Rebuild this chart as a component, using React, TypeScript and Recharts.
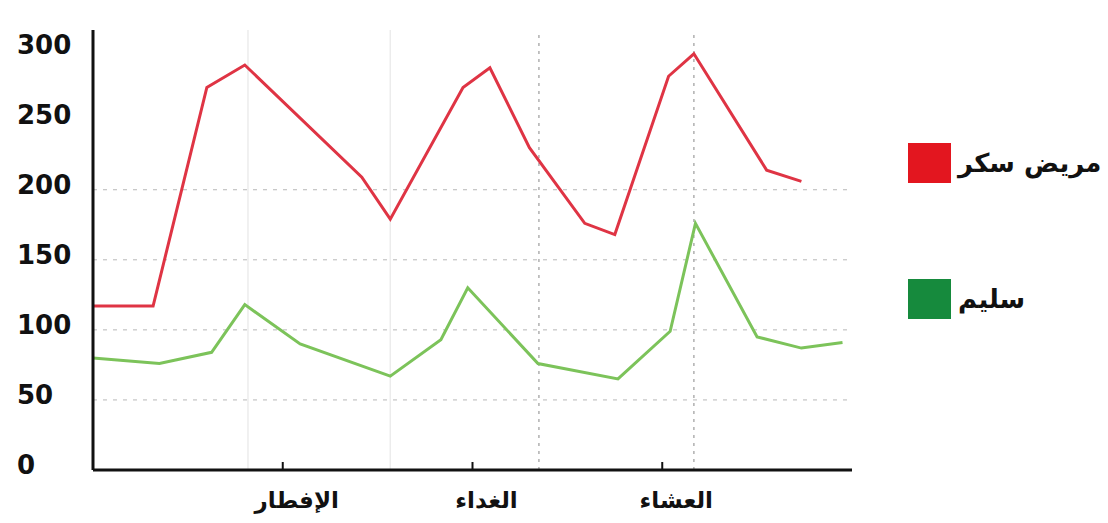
import { LineChart, Line, XAxis, YAxis, CartesianGrid, ReferenceLine } from "recharts";

// hours of the day on the x axis, meals marked at 6, 12 and 18
const mealHours = [6, 12, 18];
const mealNames = ["الإفطار", "الغداء", "العشاء"];
const yTicks = [0, 50, 100, 150, 200, 250, 300];
const gridLevels = [50, 100, 150, 200];
const dividerHours = [4.9, 9.4, 14.1, 19.0];

const diabeticHours = [0, 1.9, 3.6, 4.8, 8.5, 9.4, 11.7, 12.55, 13.8, 15.55, 16.5, 18.2, 19.0, 21.3, 22.4];
const diabeticLevels = [117, 117, 273, 289, 209, 179, 273, 287, 230, 176, 168, 281, 297, 214, 206];

const healthyHours = [0, 2.1, 3.75, 4.8, 6.55, 9.4, 11.0, 11.85, 14.07, 16.6, 18.25, 19.05, 21.0, 22.4, 23.7];
const healthyLevels = [80, 76, 84, 118, 90, 67, 93, 130, 76, 65, 99, 176, 95, 87, 91];

const seriesNames = ["مريض سكر", "سليم"];
const lineColors = ["#df3444", "#7cc35a"];
const swatchColors = ["#e3161f", "#168a3d"];

const diabeticData = diabeticHours.map((h, i) => ({ h, v: diabeticLevels[i] }));
const healthyData = healthyHours.map((h, i) => ({ h, v: healthyLevels[i] }));

const FONT = "'DejaVu Sans', Verdana, sans-serif";

const YTick = ({ y, payload }: any) => (
  <text x={17} y={y - 5} dominantBaseline="central" fontFamily={FONT} fontWeight="bold" fontSize={26} fill="#111">
    {payload.value}
  </text>
);

const XTick = ({ x, y, payload }: any) => {
  const i = mealHours.indexOf(payload.value);
  return (
    <g>
      <line x1={x} x2={x} y1={y - 8} y2={y} stroke="#111" strokeWidth={2} />
      <text x={x + 14} y={y + 30} textAnchor="middle" dominantBaseline="central" fontFamily={FONT} fontWeight="bold" fontSize={23} fill="#111">
        {mealNames[i]}
      </text>
    </g>
  );
};

const LegendBox = () => (
  <div style={{ position: "absolute", left: 908, top: 143, display: "flex", flexDirection: "column", gap: 96 }}>
    {seriesNames.map((name, i) => (
      <div key={name} style={{ display: "flex", alignItems: "center", gap: 7, height: 40 }}>
        <span style={{ width: 43, height: 40, background: swatchColors[i], display: "inline-block" }} />
        <span style={{ fontFamily: FONT, fontWeight: "bold", fontSize: 26, color: "#111", direction: "rtl", whiteSpace: "nowrap" }}>{name}</span>
      </div>
    ))}
  </div>
);

export default function App() {
  return (
    <div style={{ position: "absolute", left: 0, top: 0, width: 1108, height: 523, background: "#fff", overflow: "hidden" }}>
      <LineChart width={1108} height={523} margin={{ top: 30, right: 256, bottom: 0, left: 0 }}>
        <CartesianGrid vertical={false} horizontalValues={gridLevels} stroke="#b8b8b8" strokeDasharray="4 6" />
        {dividerHours.map((h, i) => (
          <ReferenceLine
            key={h}
            x={h}
            stroke={i < 2 ? "#ececec" : "#b0b0b0"}
            strokeDasharray={i < 2 ? undefined : "3 5"}
            strokeWidth={1.5}
          />
        ))}
        <XAxis
          dataKey="h"
          type="number"
          domain={[0, 24]}
          ticks={mealHours}
          tick={<XTick />}
          tickLine={false}
          tickSize={0}
          tickMargin={0}
          height={53}
          axisLine={{ stroke: "#111", strokeWidth: 3 }}
        />
        <YAxis
          type="number"
          domain={[0, 314]}
          ticks={yTicks}
          tick={<YTick />}
          tickLine={false}
          width={93}
          axisLine={{ stroke: "#111", strokeWidth: 3 }}
        />
        <Line data={diabeticData} dataKey="v" name={seriesNames[0]} type="linear" stroke={lineColors[0]} strokeWidth={3} dot={false} isAnimationActive={false} />
        <Line data={healthyData} dataKey="v" name={seriesNames[1]} type="linear" stroke={lineColors[1]} strokeWidth={3} dot={false} isAnimationActive={false} />
      </LineChart>
      <LegendBox />
    </div>
  );
}
